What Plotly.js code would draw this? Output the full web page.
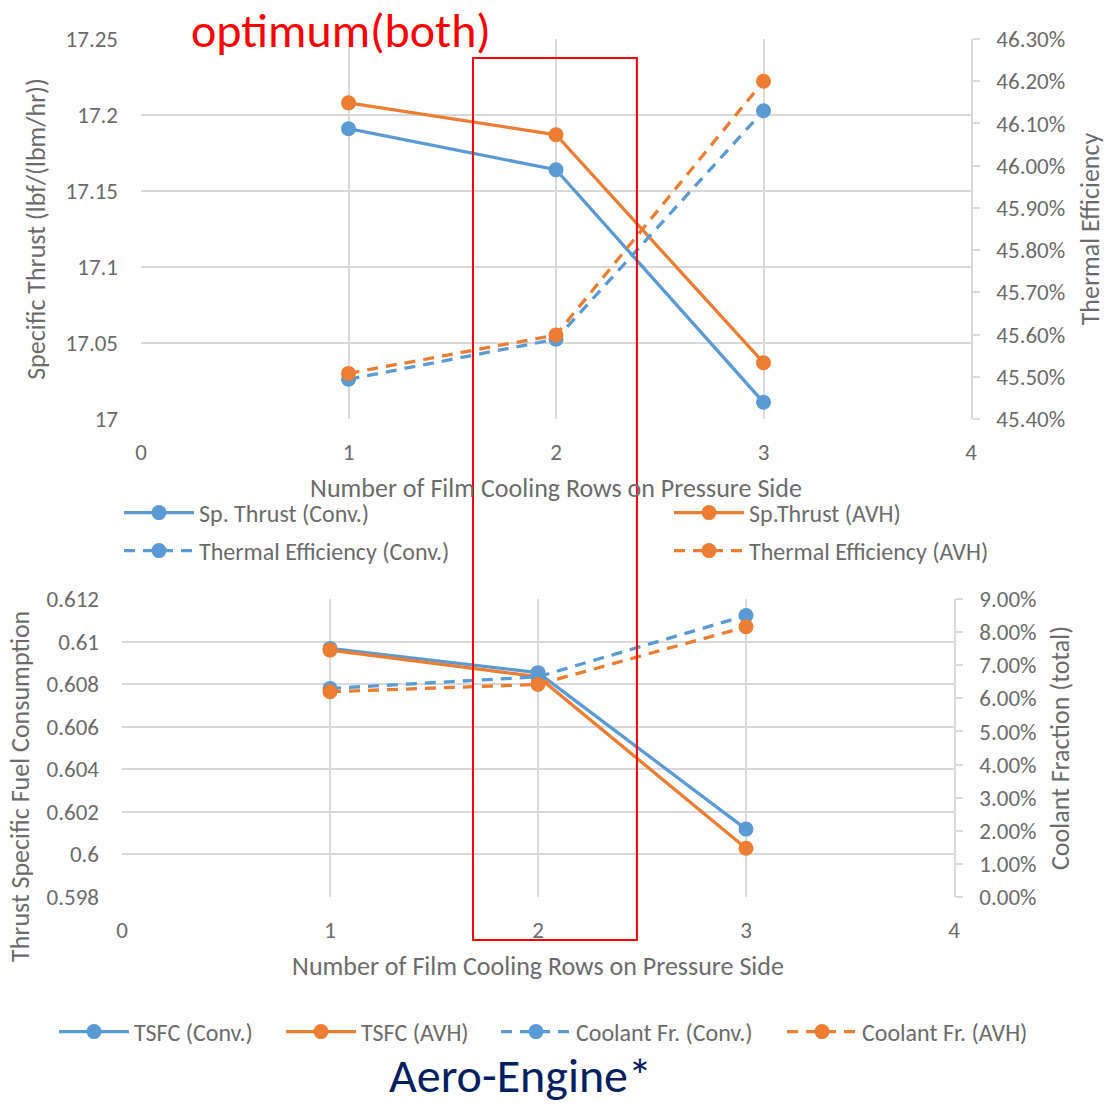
<!DOCTYPE html>
<html>
<head>
<meta charset="utf-8">
<script src="https://cdn.plot.ly/plotly-3.0.1.min.js"></script>
<style>
html,body{margin:0;padding:0;background:#fff;}
#chart{width:1107px;height:1106px;}
</style>
</head>
<body>
<div id="chart"></div>
<script>
// ---- data ----
var rows = [1, 2, 3];
var xTicks = [0, 1, 2, 3, 4];

var spThrustConv = [17.191, 17.164, 17.011];
var spThrustAVH  = [17.208, 17.187, 17.037];
var thermEffConv = [0.45494, 0.45589, 0.4613];
var thermEffAVH  = [0.45508, 0.45599, 0.4620];

var tsfcConv = [0.60968, 0.60854, 0.60119];
var tsfcAVH  = [0.60960, 0.60835, 0.60029];
var coolConv = [0.0630, 0.0665, 0.0850];
var coolAVH  = [0.0620, 0.0642, 0.0816];

var names = {
  spConv: 'Sp. Thrust (Conv.)', spAVH: 'Sp.Thrust (AVH)',
  teConv: 'Thermal Efficiency (Conv.)', teAVH: 'Thermal Efficiency (AVH)',
  tsConv: 'TSFC (Conv.)', tsAVH: 'TSFC (AVH)',
  cfConv: 'Coolant Fr. (Conv.)', cfAVH: 'Coolant Fr. (AVH)'
};

var BLUE = '#5B9BD5', ORANGE = '#ED7D31', GRID = '#D9D9D9', TXT = '#6b6b6b';
var FONT = 'Carlito, Calibri, Lato, sans-serif';
var W = 1107, H = 1106;
function px(x){ return x / W; }
function py(y){ return 1 - y / H; }

function tr(x, y, name, color, dash, xa, ya, leg){
  return {
    type: 'scatter', mode: 'lines+markers', x: x, y: y, name: name,
    xaxis: xa, yaxis: ya, legend: leg,
    line: {color: color, width: 3.3, dash: dash},
    marker: {color: color, size: 15, symbol: 'circle'},
    hoverinfo: 'x+y+name'
  };
}
var DASH = '11px,8px';
var data = [
  tr(rows, spThrustConv, names.spConv, BLUE, 'solid', 'x', 'y', 'legend'),
  tr(rows, spThrustAVH, names.spAVH, ORANGE, 'solid', 'x', 'y', 'legend2'),
  tr(rows, thermEffConv, names.teConv, BLUE, DASH, 'x', 'y2', 'legend3'),
  tr(rows, thermEffAVH, names.teAVH, ORANGE, DASH, 'x', 'y2', 'legend4'),
  tr(rows, tsfcConv, names.tsConv, BLUE, 'solid', 'x2', 'y3', 'legend5'),
  tr(rows, tsfcAVH, names.tsAVH, ORANGE, 'solid', 'x2', 'y3', 'legend6'),
  tr(rows, coolConv, names.cfConv, BLUE, DASH, 'x2', 'y4', 'legend7'),
  tr(rows, coolAVH, names.cfAVH, ORANGE, DASH, 'x2', 'y4', 'legend8')
];

var tickFont = {family: FONT, size: 23, color: TXT};
var titleFont = {family: FONT, size: 26, color: TXT};
var legFont = {family: FONT, size: 24, color: TXT};

function xAxis(dom, anchor){
  return {domain: dom, anchor: anchor, range: [0, 4], tickvals: xTicks,
    showgrid: true, gridcolor: GRID, gridwidth: 1.5, zeroline: false,
    showline: false, ticks: '', tickfont: tickFont, ticklabelstandoff: 17,
    fixedrange: true};
}
function legendAt(x, y){
  return {x: px(x), y: py(y), xanchor: 'left', yanchor: 'middle',
    bgcolor: 'rgba(0,0,0,0)', font: legFont,
    itemwidth: 70, itemclick: false, itemdoubleclick: false};
}

var layout = {
  width: W, height: H,
  margin: {l: 0, r: 0, t: 0, b: 0},
  paper_bgcolor: '#fff', plot_bgcolor: '#fff',
  font: {family: FONT, color: TXT},
  showlegend: true,
  xaxis: Object.assign(xAxis([px(141), px(971)], 'y'), {
    title: {text: 'Number of Film Cooling Rows on Pressure Side', font: titleFont, standoff: 13}
  }),
  yaxis: {domain: [py(419), py(39)], range: [17, 17.25], dtick: 0.05, tick0: 17,
    showgrid: true, gridcolor: GRID, gridwidth: 1.5, zeroline: false, showline: false,
    ticks: '', tickfont: tickFont, ticklabelstandoff: 22, fixedrange: true,
    title: {text: 'Specific Thrust (lbf/(lbm/hr))', font: titleFont, standoff: 12}},
  yaxis2: {overlaying: 'y', side: 'right', anchor: 'x', range: [0.454, 0.463], dtick: 0.001,
    tick0: 0.454, tickformat: '.2%', showgrid: false, zeroline: false,
    showline: true, linecolor: GRID, linewidth: 1.5, ticks: 'outside', ticklen: 7,
    tickcolor: GRID, tickwidth: 1.5, tickfont: tickFont, ticklabelstandoff: 12, fixedrange: true,
    title: {text: 'Thermal Efficiency', font: titleFont, standoff: 17}},
  xaxis2: Object.assign(xAxis([px(122), px(954)], 'y3'), {
    title: {text: 'Number of Film Cooling Rows on Pressure Side', font: titleFont, standoff: 13}
  }),
  yaxis3: {domain: [py(897), py(599)], anchor: 'x2', range: [0.598, 0.612], dtick: 0.002, tick0: 0.598,
    tickformat: '~g',
    showgrid: true, gridcolor: GRID, gridwidth: 1.5, zeroline: false, showline: false,
    ticks: '', tickfont: tickFont, ticklabelstandoff: 22, fixedrange: true},
  yaxis4: {overlaying: 'y3', side: 'right', anchor: 'x2', range: [0, 0.09], dtick: 0.01,
    tickformat: '.2%', showgrid: false, zeroline: false,
    showline: true, linecolor: GRID, linewidth: 1.5, ticks: 'outside', ticklen: 7,
    tickcolor: GRID, tickwidth: 1.5, tickfont: tickFont, ticklabelstandoff: 12, fixedrange: true,
    title: {text: 'Coolant Fraction (total)', font: titleFont, standoff: 15}},
  legend:  legendAt(119, 513),
  legend2: legendAt(669, 513),
  legend3: legendAt(119, 551),
  legend4: legendAt(669, 551),
  legend5: legendAt(54, 1032),
  legend6: legendAt(281, 1032),
  legend7: legendAt(496, 1032),
  legend8: legendAt(782, 1032),
  shapes: [{type: 'rect', xref: 'x', yref: 'paper', x0: 1.6, x1: 2.39,
    y0: py(940), y1: py(58), line: {color: '#FF0000', width: 2}, layer: 'above'}],
  annotations: [
    {text: 'Thrust Specific Fuel Consumption', xref: 'paper', yref: 'paper',
     x: px(20), y: py(787), textangle: -90, showarrow: false, font: titleFont,
     xanchor: 'center', yanchor: 'middle'},
    {text: 'optimum(both)', xref: 'paper', yref: 'paper', x: px(341), y: py(31),
     showarrow: false, font: {family: FONT, size: 48, color: '#FF0000'},
     xanchor: 'center', yanchor: 'middle'},
    {text: 'Aero-Engine*', xref: 'paper', yref: 'paper', x: px(520), y: 0,
     showarrow: false, font: {family: FONT, size: 48, color: '#002060'},
     xanchor: 'center', yanchor: 'bottom', borderpad: 0}
  ]
};

Plotly.newPlot('chart', data, layout, {displayModeBar: false});
</script>
</body>
</html>
